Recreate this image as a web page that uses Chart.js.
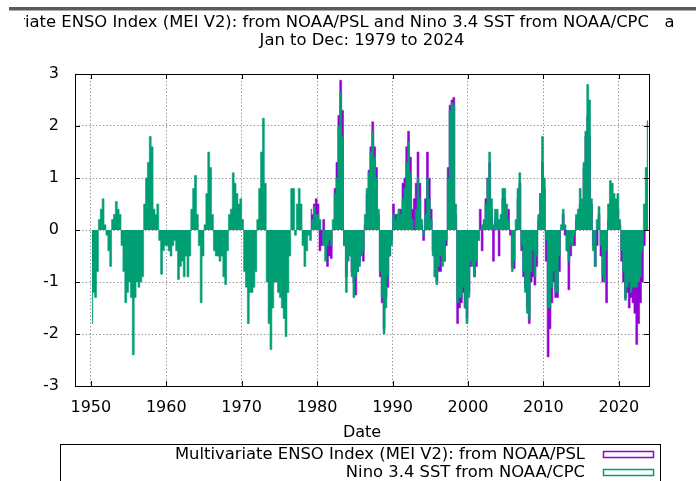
<!DOCTYPE html>
<html>
<head>
<meta charset="utf-8">
<script src="https://cdn.jsdelivr.net/npm/chart.js@4.4.1/dist/chart.umd.min.js"></script>
<style>
  html, body { margin: 0; padding: 0; background: #fff; }
</style>
</head>
<body>
<canvas id="enso-chart" width="696" height="481"></canvas>
<script>
// ----------------- Data ------------------------------------------------------//
// seasonal values: Jan-Mar, Apr-Jun, Jul-Sep, Oct-Dec of each year

const ninoStartYear = 1950
// Nino 3.4 SST anomaly from NOAA/CPC, 1950 - 2023
const nino34 = [
  -1.8, -1.2, -1.3, -0.8,   // 1950
  0.2, 0.4, 0.6, 0.1,
  -0.1, -0.4, -0.7, 0.2,
  0.3, 0.55, 0.4, 0.3,
  -0.3, -0.8, -1.4, -1.2,
  -1.0, -1.3, -2.4, -1.3,   // 1955
  -1.0, -1.1, -1.0, -0.9,
  0.5, 1.0, 1.3, 1.8,
  1.6, 0.4, 0.3, 0.5,
  -0.2, -0.85, -0.4, -0.3,
  -0.3, -0.4, -0.5, -0.3,   // 1960
  -0.2, -0.4, -0.95, -0.7,
  -0.6, -0.9, -0.5, -0.9,
  -0.5, 0.4, 0.8, 1.05,
  0.3, -0.3, -1.4, -0.5,
  0.1, 0.7, 1.5, 1.2,       // 1965
  0.3, -0.4, -0.5, -0.5,
  -0.6, -0.5, -0.9, -1.05,
  -0.4, 0.3, 0.4, 1.1,
  0.9, 0.7, 0.5, 0.6,
  0.2, -0.8, -1.1, -1.8,    // 1970
  -1.2, -1.2, -1.1, -0.8,
  0.2, 0.8, 1.5, 2.15,
  0.9, -1.0, -1.8, -2.3,
  -1.5, -1.0, -1.0, -1.2,
  -1.3, -1.5, -1.7, -2.05,  // 1975
  -1.2, -0.5, 0.8, 0.8,
  -0.1, 0.5, 0.8, 0.5,
  -0.3, -0.7, -0.4, -0.1,
  -0.2, 0.2, 0.45, 0.3,
  0.3, 0.2, 0.0, -0.3,      // 1980
  -0.6, -0.3, -0.2, -0.3,
  0.2, 0.7, 1.0, 2.0,
  2.65, 1.8, -0.3, -1.2,
  -0.6, -0.5, -0.9, -1.3,
  -0.9, -0.8, -0.7, -0.5,   // 1985
  -0.4, 0.3, 0.8, 1.1,
  1.5, 1.9, 1.4, 1.0,
  0.4, -0.8, -1.3, -2.0,
  -1.5, -0.9, -0.5, -0.3,
  0.3, 0.2, 0.3, 0.4,       // 1990
  0.3, 0.6, 0.8, 1.3,
  1.7, 1.1, 0.2, 0.0,
  0.4, 1.0, 0.6, 0.2,
  -0.1, 0.3, 1.0, 0.6,
  0.2, -0.5, -0.9, -1.05,   // 1995
  -0.7, -0.5, -0.7, -0.6,
  -0.2, 1.0, 2.3, 2.45,
  2.4, 0.5, -1.4, -1.3,
  -1.3, -1.1, -1.5, -1.8,
  -1.3, -0.6, -0.7, -0.9,   // 2000
  -0.6, -0.2, 0.0, 0.1,
  0.2, 0.5, 1.0, 1.5,
  0.6, 0.1, 0.4, 0.4,
  0.2, 0.3, 0.8, 0.8,
  0.5, 0.2, 0.0, -0.8,      // 2005
  -0.6, 0.2, 0.8, 1.1,
  -0.3, -0.8, -1.2, -1.6,
  -1.7, -0.8, -0.4, -0.9,
  -0.5, 0.3, 0.7, 1.8,
  1.0, -0.2, -1.5, -1.5,    // 2010
  -1.1, -0.8, -1.2, -1.2,
  -0.5, 0.1, 0.4, 0.1,
  -0.4, -0.6, -0.3, -0.3,
  -0.1, 0.3, 0.4, 0.8,
  0.6, 1.3, 1.9, 2.8,       // 2015
  2.5, 0.6, -0.4, -0.7,
  0.2, 0.45, -0.3, -0.9,
  -1.0, -0.4, 0.5, 0.95,
  0.9, 0.7, 0.6, 0.7,
  0.2, -0.4, -0.8, -1.35,   // 2020
  -1.1, -1.0, -1.2, -1.1,
  -1.1, -1.1, -1.0, -0.9,
  -0.4, 0.5, 1.2, 2.1,
]

const meiStartYear = 1979
// Multivariate ENSO Index (MEI V2) from NOAA/PSL, 1979 - 2023
const meiV2 = [
  0.4, 0.3, 0.5, 0.6,       // 1979
  0.5, -0.4, -0.3, 0.2,     // 1980
  -0.3, -0.7, -0.5, -0.55,
  0.0, 0.8, 1.3, 2.2,
  2.88, 2.3, -0.3, -0.9,
  -0.5, -0.4, -0.8, -1.0,
  -1.25, -0.8, -0.6, -0.4,  // 1985
  -0.6, 0.1, 0.7, 1.15,
  1.6, 2.08, 1.6, 1.2,
  0.3, -0.9, -1.4, -1.9,
  -1.3, -1.1, -0.5, -0.2,
  0.5, 0.3, 0.3, 0.4,       // 1990
  0.4, 0.9, 1.0, 1.6,
  1.9, 1.4, 0.4, 0.6,
  0.9, 1.5, 0.9, 0.1,
  -0.2, 0.6, 1.5, 1.0,
  0.4, -0.4, -0.9, -1.0,    // 1995
  -0.8, -0.8, -0.6, -0.6,
  -0.3, 1.2, 2.4, 2.5,
  2.55, 0.3, -1.8, -1.5,
  -1.4, -1.2, -1.5, -1.7,
  -1.2, -0.7, -0.6, -0.9,   // 2000
  -0.7, -0.2, 0.4, -0.4,
  0.1, 0.6, 1.0, 1.3,
  0.4, -0.6, 0.2, 0.2,
  -0.5, 0.2, 0.6, 0.6,
  0.3, 0.4, -0.1, -0.7,     // 2005
  -0.74, 0.0, 0.6, 0.9,
  -0.4, -0.9, -1.1, -1.5,
  -1.8, -1.0, -0.9, -1.06,
  -0.7, 0.2, 0.7, 1.3,
  0.8, -0.6, -2.44, -1.9,   // 2010
  -1.4, -1.0, -1.3, -1.3,
  -0.8, 0.0, 0.3, -0.1,
  -0.4, -1.15, -0.5, -0.3,
  -0.3, 0.2, 0.2, 0.5,
  0.4, 1.2, 1.8, 2.2,       // 2015
  1.8, 0.5, -0.3, -0.7,
  -0.3, 0.3, -0.5, -1.0,
  -0.9, -1.4, 0.2, 0.5,
  0.4, 0.5, 0.3, 0.4,
  0.1, -0.6, -1.0, -1.3,    // 2020
  -1.2, -1.5, -1.3, -1.4,
  -1.6, -2.2, -1.8, -1.4,
  -1.0, -0.3, 0.5, 0.9,
]

const xTickYears = [1950, 1960, 1970, 1980, 1990, 2000, 2010, 2020]
const yTickValues = [-3, -2, -1, 0, 1, 2, 3]

const titleLines = [
  'Multivariate ENSO Index (MEI V2): from NOAA/PSL and Nino 3.4 SST from NOAA/CPC   a',
  'Jan to Dec: 1979 to 2024',
]
const xAxisTitle = 'Date'
const legendLabels = ['Multivariate ENSO Index (MEI V2): from NOAA/PSL', 'Nino 3.4 SST from NOAA/CPC']

const purple = '#9400d3'
const green = '#009e73'

// seasonal value -> point in the middle of its season
const toPoints = (startYear, values) =>
  values.map((v, i) => ({ x: startYear + Math.floor(i / 4) + ((i % 4) + 0.5) / 4, y: v }))

// ----------------- gnuplot-like decorations ------------------------//
const decor = {
  id: 'decor',
  beforeDraw(chart) {
    const ctx = chart.ctx
    ctx.save()
    ctx.fillStyle = '#fff'
    ctx.fillRect(0, 0, chart.width, chart.height)
    ctx.restore()
  },
  afterDatasetsDraw(chart) {
    const ctx = chart.ctx
    const { left, right, top, bottom } = chart.chartArea
    const xs = chart.scales.x
    const ys = chart.scales.y
    ctx.save()
    ctx.strokeStyle = '#000'
    ctx.lineWidth = 1
    ctx.strokeRect(Math.round(left) + 0.5, Math.round(top) + 0.5, Math.round(right - left), Math.round(bottom - top))
    ctx.beginPath()
    xTickYears.forEach((yr) => {
      const px = Math.round(xs.getPixelForValue(yr)) + 0.5
      ctx.moveTo(px, bottom)
      ctx.lineTo(px, bottom - 5)
      ctx.moveTo(px, top)
      ctx.lineTo(px, top + 5)
    })
    yTickValues.forEach((v) => {
      const py = Math.round(ys.getPixelForValue(v)) + 0.5
      ctx.moveTo(left, py)
      ctx.lineTo(left + 5, py)
      ctx.moveTo(right, py)
      ctx.lineTo(right - 5, py)
    })
    ctx.stroke()
    ctx.restore()
  },
  afterDraw(chart) {
    const ctx = chart.ctx
    const { left, right } = chart.chartArea
    ctx.save()

    // dark strip along the top edge
    ctx.fillStyle = '#5a5a60'
    ctx.fillRect(9, 7, 687, 3.5)

    // title, first line is wider than the picture and gets cut
    ctx.fillStyle = '#000'
    ctx.font = '16.4px "DejaVu Sans"'
    ctx.textBaseline = 'middle'
    ctx.save()
    ctx.beginPath()
    ctx.rect(24, 12, 658, 20)
    ctx.clip()
    ctx.textAlign = 'left'
    const startX = 25 - ctx.measureText('Multivar').width
    ctx.fillText(titleLines[0], startX, 23)
    ctx.restore()
    ctx.textAlign = 'center'
    ctx.fillText(titleLines[1], (left + right) / 2, 41)

    // x axis title
    ctx.font = '16px "DejaVu Sans"'
    ctx.fillText(xAxisTitle, (left + right) / 2, 433)

    // legend box (runs off the bottom of the picture)
    ctx.strokeStyle = '#000'
    ctx.lineWidth = 1
    ctx.strokeRect(60.5, 444.5, 600, 60)
    ctx.font = '16.4px "DejaVu Sans"'
    ctx.textAlign = 'right'
    const rows = [455, 473]
    const colors = [purple, green]
    legendLabels.forEach((label, i) => {
      ctx.fillStyle = '#000'
      ctx.fillText(label, 585, rows[i])
      ctx.strokeStyle = colors[i]
      ctx.lineWidth = 1.5
      ctx.strokeRect(603.5, rows[i] - 3.5, 50, 6)
    })
    ctx.restore()
  },
}

// ----------------- Chart ------------------------//
// filled step curves = gnuplot boxes that touch each other
const ensoChart = new Chart(document.getElementById('enso-chart'), {
  type: 'line',
  data: {
    datasets: [
      {
        label: legendLabels[1],
        data: toPoints(ninoStartYear, nino34),
        borderColor: green,
        backgroundColor: green,
        order: 1, // drawn on top of MEI
      },
      {
        label: legendLabels[0],
        data: toPoints(meiStartYear, meiV2),
        borderColor: purple,
        backgroundColor: purple,
        order: 2,
      },
    ],
  },
  options: {
    responsive: false,
    animation: false,
    devicePixelRatio: 1,
    font: { family: 'DejaVu Sans', size: 16 },
    layout: { padding: { top: 74, right: 47, bottom: 0, left: 0 } },
    datasets: {
      line: {
        stepped: 'middle',
        fill: 'origin',
        borderWidth: 0.6,
        pointRadius: 0,
        pointHoverRadius: 0,
      },
    },
    scales: {
      x: {
        type: 'linear',
        min: 1947.9,
        max: 2024.0,
        afterBuildTicks: (scale) => {
          scale.ticks = xTickYears.map((v) => ({ value: v }))
        },
        afterFit: (scale) => {
          scale.height = 95
        },
        ticks: {
          autoSkip: false,
          maxRotation: 0,
          padding: 12,
          color: '#000',
          font: { family: 'DejaVu Sans', size: 16 },
          callback: (v) => String(v),
        },
        grid: { color: '#9a9a9a', drawTicks: false },
        border: { display: false, dash: [1.5, 2] },
      },
      y: {
        min: -3,
        max: 3,
        afterBuildTicks: (scale) => {
          scale.ticks = yTickValues.map((v) => ({ value: v }))
        },
        afterFit: (scale) => {
          scale.width = 75
        },
        ticks: {
          padding: 16,
          color: '#000',
          font: { family: 'DejaVu Sans', size: 16 },
        },
        grid: { color: '#9a9a9a', drawTicks: false },
        border: { display: false, dash: [1.5, 2] },
      },
    },
    plugins: {
      legend: { display: false },
      tooltip: { enabled: false },
      title: { display: false },
    },
  },
  plugins: [decor],
})
</script>
</body>
</html>
